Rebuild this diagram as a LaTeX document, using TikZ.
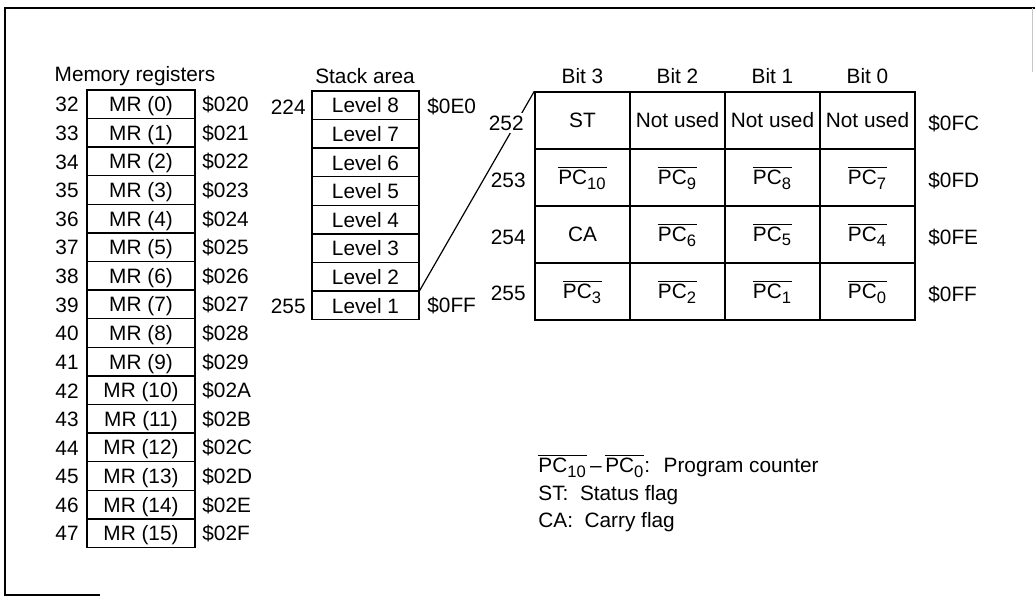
\documentclass[tikz,border=0pt]{standalone}
\usepackage{fontspec}
\setmainfont{Liberation Sans}
\newcommand\pcb[1]{\ensuremath{\overline{\hbox{PC}_{\hbox{\fontsize{8.3}{9}\selectfont #1}}}}}
\begin{document}
\begin{tikzpicture}[x=0.5pt,y=-0.5pt,
  every node/.style={font=\fontsize{10.4}{12}\selectfont, inner sep=0pt},
  membox/.style={draw, line width=0.7pt, minimum width=54pt, minimum height=14.3pt, text height=9pt, text depth=1.6pt},
  stkbox/.style={draw, line width=0.7pt, minimum width=53.5pt, minimum height=14.3pt, text height=9pt, text depth=1.4pt},
  cellbox/.style={draw, line width=0.7pt, minimum width=47.5pt, minimum height=28.5pt},
  lab/.style={anchor=east},
  rlab/.style={anchor=west},
  frame/.style={line width=1pt}]
\useasboundingbox (0,0) rectangle (1035,603);
% frame
\draw[frame] (1035,8) -- (5,8) -- (5,595) -- (100,595);
\draw[gray!45, line width=0.5pt] (1032,8) -- (1032,72);

% memory registers
\node (memtitle) at (135,76) {Memory registers};
\foreach \i/\h in {0/0,1/1,2/2,3/3,4/4,5/5,6/6,7/7,8/8,9/9,10/A,11/B,12/C,13/D,14/E,15/F}{
  \pgfmathtruncatemacro{\n}{32+\i}
  \node[membox] (m\i) at (141,{104.3+28.6*\i}) {MR (\i)};
  \node[lab] (ml\i) at (79,{104.8+28.6*\i}) {\n};
  \node[rlab] (mr\i) at (202,{104.8+28.6*\i}) {\$02\h};
}

% stack area
\node (stktitle) at (365,76) {Stack area};
\foreach \j in {0,...,7}{
  \pgfmathtruncatemacro{\lv}{8-\j}
  \node[stkbox] (s\j) at (365.5,{105.3+28.6*\j}) {Level \lv};
}
\node[lab] (sl0) at (306,107) {224};
\node[rlab] (sr0) at (427,107) {\$0E0};
\node[lab] (sl7) at (306,306) {255};
\node[rlab] (sr7) at (427,306) {\$0FF};

% bit table
\node (b3) at (582.5,76) {Bit 3};
\node (b2) at (677.5,76) {Bit 2};
\node (b1) at (772.5,76) {Bit 1};
\node (b0) at (867.5,76) {Bit 0};

\node[cellbox] (c00) at (582.5,120.5) {\raisebox{-2pt}{ST}};
\node[cellbox] (c01) at (677.5,120.5) {\raisebox{-2pt}{Not used}};
\node[cellbox] (c02) at (772.5,120.5) {\raisebox{-2pt}{Not used}};
\node[cellbox] (c03) at (867.5,120.5) {\raisebox{-2pt}{Not used}};

\node[cellbox] (c10) at (582.5,177.5) {\pcb{10}};
\node[cellbox] (c11) at (677.5,177.5) {\pcb{9}};
\node[cellbox] (c12) at (772.5,177.5) {\pcb{8}};
\node[cellbox] (c13) at (867.5,177.5) {\pcb{7}};

\node[cellbox] (c20) at (582.5,234.5) {\raisebox{-1pt}{CA}};
\node[cellbox] (c21) at (677.5,234.5) {\pcb{6}};
\node[cellbox] (c22) at (772.5,234.5) {\pcb{5}};
\node[cellbox] (c23) at (867.5,234.5) {\pcb{4}};

\node[cellbox] (c30) at (582.5,291.5) {\pcb{3}};
\node[cellbox] (c31) at (677.5,291.5) {\pcb{2}};
\node[cellbox] (c32) at (772.5,291.5) {\pcb{1}};
\node[cellbox] (c33) at (867.5,291.5) {\pcb{0}};

% link from stack to table
\draw[line width=0.6pt] (c00.north west) -- (s7.north east);

\node[lab, fill=white, inner sep=1.5pt] (t0) at (527,123) {252};
\node[lab] (t1) at (526,180) {253};
\node[lab] (t2) at (526,237) {254};
\node[lab] (t3) at (526,293) {255};
\node[rlab] (tr0) at (928,124) {\$0FC};
\node[rlab] (tr1) at (928,181) {\$0FD};
\node[rlab] (tr2) at (928,238) {\$0FE};
\node[rlab] (tr3) at (928,295) {\$0FF};

% legend
\node[rlab] (leg1) at (538,466) {\pcb{10}\,--\,\pcb{0}:~ Program counter};
\node[rlab] (leg2) at (538,495) {ST:~ Status flag};
\node[rlab] (leg3) at (538,522) {CA:~ Carry flag};
\end{tikzpicture}
\end{document}
